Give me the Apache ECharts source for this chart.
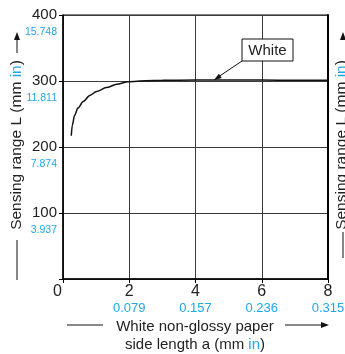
<!DOCTYPE html>
<html><head><meta charset="utf-8">
<script src="https://cdn.jsdelivr.net/npm/echarts@6/dist/echarts.min.js"></script>
<style>html,body{margin:0;padding:0;background:#fff}#c{width:345px;height:354px}</style>
</head><body><div id="c"></div>
<script>
// Data
const sideLength = [0.25, 0.28, 0.35, 0.45, 0.61, 0.81, 1.01, 1.31, 1.62, 1.97, 2.5, 3, 4, 5, 6, 7, 8];
const sensingRange = [217, 233, 248, 259, 269, 278, 284, 290, 295, 299, 300.5, 301, 301.5, 301.5, 301.5, 301, 301];
const xTicksInch = {2: '0.079', 4: '0.157', 6: '0.236', 8: '0.315'};
const yTicksInch = {100: '3.937', 200: '7.874', 300: '11.811', 400: '15.748'};
const seriesName = 'White';

const BLUE = '#1fa8e8';
const FONT = 'Liberation Sans, Arial, sans-serif';

const chart = echarts.init(document.getElementById('c'));
const data = sideLength.map((x, i) => [x, sensingRange[i]]);

chart.setOption({
  animation: false,
  grid: {left: 63, right: 17, top: 15, bottom: 75, show: true, borderColor: '#000', borderWidth: 1,
         containLabel: false, outerBoundsMode: 'none'},
  xAxis: {
    type: 'value', min: 0, max: 8, interval: 2,
    axisLine: {lineStyle: {color: '#000', width: 1.5}},
    axisTick: {show: true, inside: false, length: 4, lineStyle: {color: '#000'}},
    splitLine: {show: true, lineStyle: {color: '#3a3a3a', width: 1}},
    axisLabel: {
      margin: 5, verticalAlign: 'top', hideOverlap: false,
      formatter: v => v === 0 ? '{z|0}' : '{a|' + v + '}\n{b|' + (xTicksInch[v] || '') + '}',
      rich: {
        z: {fontFamily: FONT, fontSize: 16, color: '#222', lineHeight: 16, padding: [0, 11, 0, 0]},
        a: {fontFamily: FONT, fontSize: 16, color: '#222', lineHeight: 16},
        b: {fontFamily: FONT, fontSize: 13, color: BLUE, lineHeight: 17}
      }
    }
  },
  yAxis: [{
    type: 'value', min: 0, max: 400, interval: 100,
    axisLine: {show: true, lineStyle: {color: '#000', width: 1.5}},
    axisTick: {show: true, inside: false, length: 4, lineStyle: {color: '#000'}},
    splitLine: {show: true, lineStyle: {color: '#3a3a3a', width: 1}},
    axisLabel: {
      margin: 6, align: 'right', hideOverlap: false,
      formatter: v => v === 0 ? '' : '{e| }\n{a|' + v + '}\n{b|' + yTicksInch[v] + '}',
      rich: {
        e: {fontSize: 10, lineHeight: 18},
        a: {fontFamily: FONT, fontSize: 15, color: '#222', lineHeight: 16, align: 'right'},
        b: {fontFamily: FONT, fontSize: 10.5, color: BLUE, lineHeight: 18, align: 'right'}
      }
    }
  }, {
    type: 'value', min: 0, max: 400, position: 'right',
    axisLine: {show: true, lineStyle: {color: '#000', width: 2}},
    axisTick: {show: false}, axisLabel: {show: false}, splitLine: {show: false}
  }],
  series: [{
    name: seriesName, type: 'line', data: data, smooth: 0.3, smoothMonotone: 'x', showSymbol: false,
    lineStyle: {color: '#111', width: 1.5}
  }]
});

// Decorations (axis titles, arrows, annotation)
const tip = chart.convertToPixel({xAxisIndex: 0, yAxisIndex: 0}, [4.55, 301]);
const arrowHead = (x1, y1, x2, y2, len, w) => {
  const a = Math.atan2(y2 - y1, x2 - x1);
  const bx = x2 - len * Math.cos(a), by = y2 - len * Math.sin(a);
  const px = -Math.sin(a) * w, py = Math.cos(a) * w;
  return {type: 'polygon', shape: {points: [[x2, y2], [bx + px, by + py], [bx - px, by - py]]}, style: {fill: '#111'}};
};
const line = (x1, y1, x2, y2, w) => ({type: 'line', shape: {x1, y1, x2, y2}, style: {stroke: '#111', lineWidth: w || 1}});
const yTitle = (cx) => ({
  type: 'text', x: cx, y: 145, rotation: Math.PI / 2,
  style: {
    text: 'Sensing range L (mm {b|in})', fontFamily: FONT, fontSize: 15.5, fill: '#222',
    align: 'center', verticalAlign: 'middle',
    rich: {b: {fontFamily: FONT, fontSize: 15.5, fill: BLUE}}
  }
});

chart.setOption({
  graphic: [
    // x title
    {type: 'text', x: 195, y: 327, style: {text: 'White non-glossy paper', fontFamily: FONT, fontSize: 15, fill: '#222', align: 'center', verticalAlign: 'middle'}},
    {type: 'text', x: 195, y: 345, style: {text: 'side length a (mm {b|in})', fontFamily: FONT, fontSize: 15, fill: '#222', align: 'center', verticalAlign: 'middle', rich: {b: {fontFamily: FONT, fontSize: 15, fill: BLUE}}}},
    line(67, 325, 103, 325),
    line(285, 325, 322, 325),
    arrowHead(285, 325, 329, 325, 8, 3),
    // y title
    yTitle(17),
    line(17, 240, 17, 280),
    line(17, 53, 17, 38),
    arrowHead(17, 53, 17, 32, 8, 3),
    // neighbour chart fragment
    yTitle(342),
    line(343, 232, 343, 258),
    arrowHead(343, 53, 343, 32, 8, 3),
    // annotation
    {type: 'rect', shape: {x: 242, y: 39, width: 51, height: 22}, style: {fill: '#fff', stroke: '#111', lineWidth: 1}},
    {type: 'text', x: 267.5, y: 50.5, style: {text: seriesName, fontFamily: FONT, fontSize: 15, fill: '#222', align: 'center', verticalAlign: 'middle'}},
    line(242, 61, tip[0] + 4, tip[1] - 3),
    arrowHead(242, 61, tip[0], tip[1], 8, 2.5)
  ]
});
</script>
</body></html>
